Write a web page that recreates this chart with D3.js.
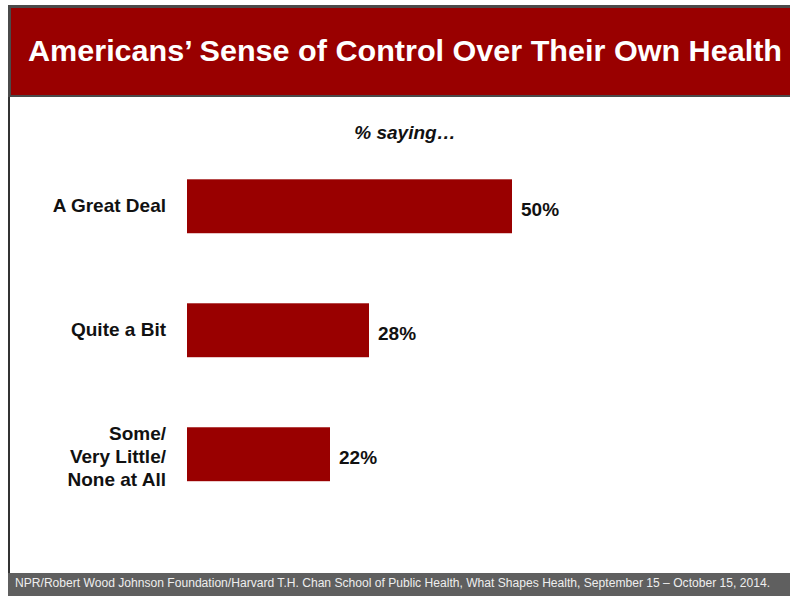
<!DOCTYPE html>
<html>
<head>
<meta charset="utf-8">
<script src="https://cdn.jsdelivr.net/npm/d3@7"></script>
<style>
  html, body { margin: 0; padding: 0; background: #fff; }
  svg { display: block; }
  text { font-family: "Liberation Sans", Arial, Helvetica, sans-serif; }
</style>
</head>
<body>
<svg id="chart" width="790" height="596"></svg>
<script>
// Survey responses: how much control people feel over their own health
const categories = ["A Great Deal", "Quite a Bit", "Some/Very Little/None at All"];
const labelLines = [["A Great Deal"], ["Quite a Bit"], ["Some/", "Very Little/", "None at All"]];
const values = [50, 28, 22];
const valueLabels = ["50%", "28%", "22%"];

const titleText = "Americans\u2019 Sense of Control Over Their Own Health";
const subtitleText = "% saying\u2026";
const sourceText = "NPR/Robert Wood Johnson Foundation/Harvard T.H. Chan School of Public Health, What Shapes Health, September 15 \u2013 October 15, 2014.";

const W = 790, H = 596;
const red = "#990000";
const svg = d3.select("#chart");

// Slide frame: left rule and header band
svg.append("rect").attr("x", 8).attr("y", 5).attr("width", W - 8).attr("height", 92).attr("fill", "#4a4a4a");
svg.append("rect").attr("x", 11).attr("y", 8).attr("width", W - 11).attr("height", 87).attr("fill", red);
svg.append("rect").attr("x", 8).attr("y", 97).attr("width", 2).attr("height", 476).attr("fill", "#333");

svg.append("text")
  .attr("x", 28).attr("y", 61)
  .attr("fill", "#fff")
  .attr("font-size", 30)
  .attr("font-weight", "bold")
  .attr("textLength", 754)
  .attr("lengthAdjust", "spacingAndGlyphs")
  .text(titleText);

// Footer band with source note
svg.append("rect").attr("x", 8).attr("y", 573).attr("width", W - 8).attr("height", H - 573).attr("fill", "#5f5f5f");
svg.append("text")
  .attr("x", 15).attr("y", 586.5)
  .attr("fill", "#eeeeee")
  .attr("font-size", 12)
  .attr("textLength", 755)
  .attr("lengthAdjust", "spacingAndGlyphs")
  .text(sourceText);

// Subtitle
svg.append("text")
  .attr("x", 405).attr("y", 139)
  .attr("text-anchor", "middle")
  .attr("font-size", 19)
  .attr("font-weight", "bold")
  .attr("font-style", "italic")
  .attr("fill", "#111")
  .text(subtitleText);

// Scales
const x = d3.scaleLinear().domain([0, 100]).range([187, 837]);
const y = d3.scaleBand().domain(categories).range([179.3, 481.2]).paddingInner(0.565).paddingOuter(0);

const rows = categories.map((c, i) => ({ cat: c, value: values[i], label: valueLabels[i], lines: labelLines[i] }));

const g = svg.append("g");

g.selectAll("rect.bar").data(rows).join("rect")
  .attr("class", "bar")
  .attr("x", x(0))
  .attr("y", d => y(d.cat))
  .attr("width", d => x(d.value) - x(0))
  .attr("height", y.bandwidth())
  .attr("fill", red);

g.selectAll("text.value").data(rows).join("text")
  .attr("class", "value")
  .attr("x", d => x(d.value) + 9)
  .attr("y", d => y(d.cat) + y.bandwidth() / 2 + 9.3)
  .attr("font-size", 19)
  .attr("font-weight", "bold")
  .attr("fill", "#111")
  .text(d => d.label);

// Category labels, right-aligned, possibly multi-line
const lineH = 23;
g.selectAll("text.cat").data(rows).join("text")
  .attr("class", "cat")
  .attr("text-anchor", "end")
  .attr("font-size", 19)
  .attr("font-weight", "bold")
  .attr("fill", "#111")
  .each(function(d) {
    const cy = y(d.cat) + y.bandwidth() / 2;
    const n = d.lines.length;
    d3.select(this).selectAll("tspan").data(d.lines).join("tspan")
      .attr("x", 166)
      .attr("y", (t, i) => cy + 6 + (i - (n - 1) / 2) * lineH + (n > 1 ? 2.5 : 0))
      .text(t => t);
  });
</script>
</body>
</html>
